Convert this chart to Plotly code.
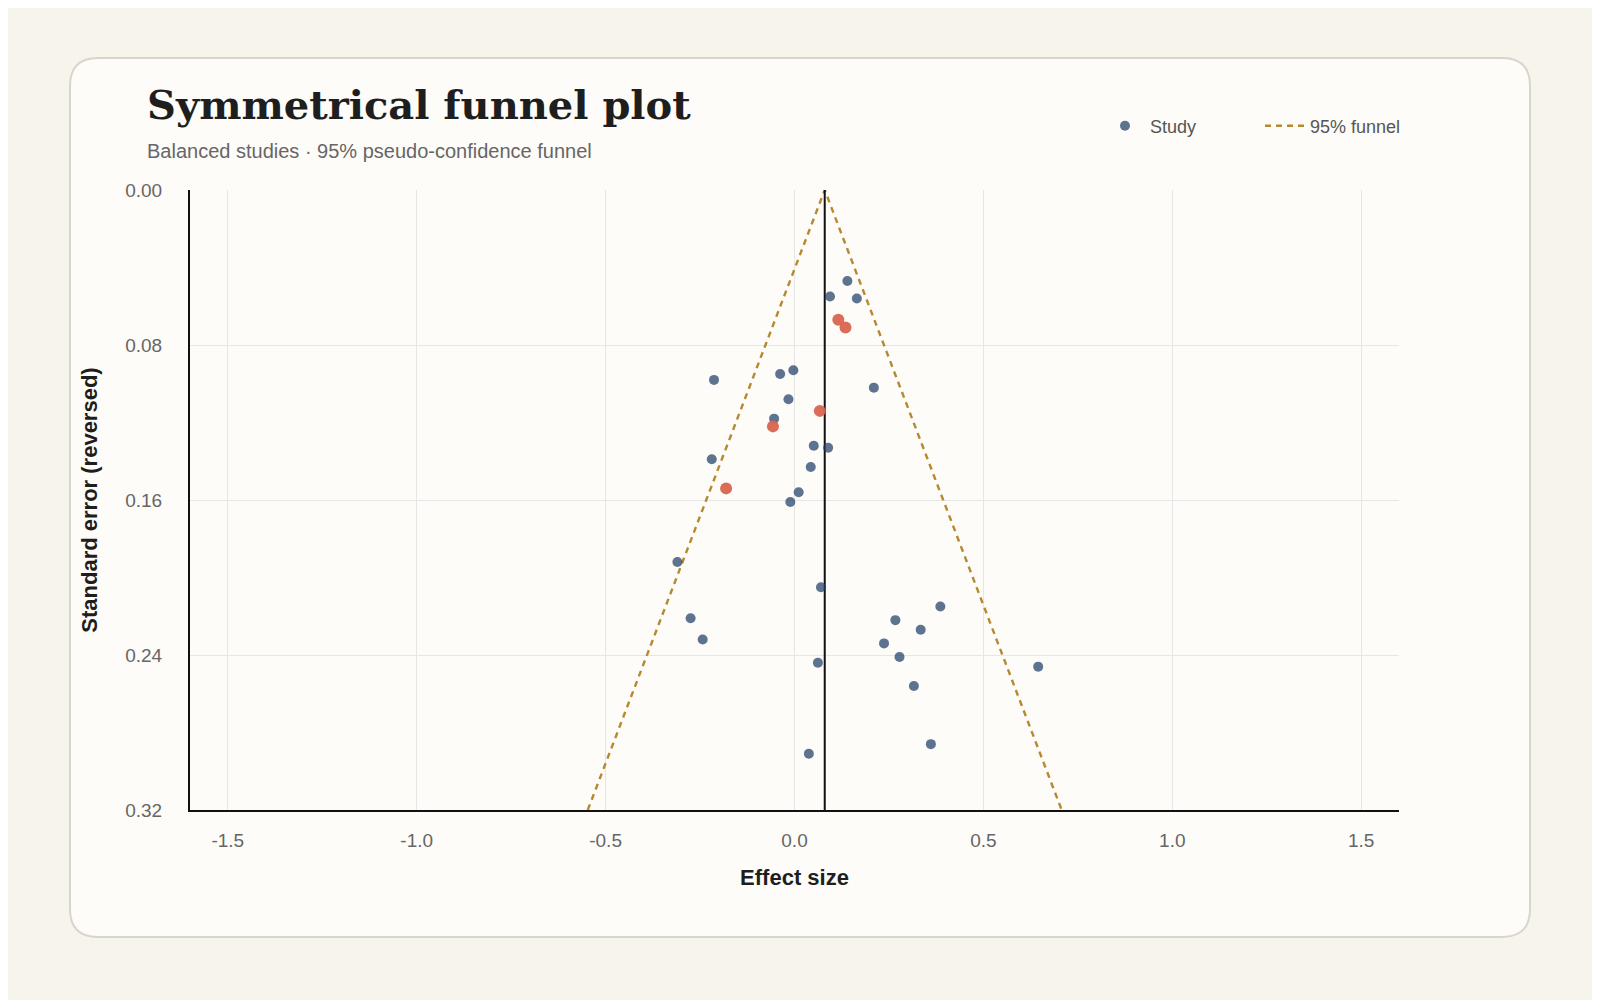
import plotly.graph_objects as go

# Study effects and standard errors
study_x = [0.140, 0.094, 0.165, -0.213, -0.038, -0.003, 0.210, -0.016, -0.054, 0.051,
           0.089, -0.219, 0.043, 0.011, -0.011, -0.310, 0.070, 0.386, 0.267, -0.275,
           0.334, -0.243, 0.237, 0.278, 0.062, 0.645, 0.316, 0.361, 0.038]
study_se = [0.047, 0.055, 0.056, 0.098, 0.095, 0.093, 0.102, 0.108, 0.118, 0.132,
            0.133, 0.139, 0.143, 0.156, 0.161, 0.192, 0.205, 0.215, 0.222, 0.221,
            0.227, 0.232, 0.234, 0.241, 0.244, 0.246, 0.256, 0.286, 0.291]
flag_x = [0.116, 0.135, 0.067, -0.057, -0.181]
flag_se = [0.067, 0.071, 0.114, 0.122, 0.154]
pooled = 0.08
funnel_se = [0.0, 0.32]
x_ticks = [-1.5, -1.0, -0.5, 0.0, 0.5, 1.0, 1.5]
x_labels = ["-1.5", "-1.0", "-0.5", "0.0", "0.5", "1.0", "1.5"]

W, H = 1600, 1000
S = 8  # page body offset
L, R, T, B = 190 - S, 201 + S, 190 - S, 190 + S
pw, ph = W - L - R, H - T - B


def px(x):
    return (x - S - L) / pw


def py(y):
    return (H - B - (y - S)) / ph


fig = go.Figure()
fig.add_trace(go.Scatter(x=[pooled - 1.96 * s for s in funnel_se][::-1] + [pooled + 1.96 * s for s in funnel_se],
                         y=funnel_se[::-1] + funnel_se, mode="lines", name="95% funnel",
                         line=dict(color="#b5892f", width=2.4, dash="6px,5px")))
fig.add_trace(go.Scatter(x=[pooled, pooled], y=[0, 0.32], mode="lines", showlegend=False,
                         line=dict(color="#111", width=2)))
fig.add_trace(go.Scatter(x=study_x, y=study_se, mode="markers", name="Study",
                         marker=dict(color="#1f3f66", size=10, opacity=0.72)))
fig.add_trace(go.Scatter(x=flag_x, y=flag_se, mode="markers", showlegend=False,
                         marker=dict(color="#d9654f", size=12, opacity=0.95)))

# rounded card
x0, x1, y0, y1, r = 70, 1530, 58, 937, 28
path = (f"M {px(x0 + r)} {py(y0)} L {px(x1 - r)} {py(y0)} Q {px(x1)} {py(y0)} {px(x1)} {py(y0 + r)} "
        f"L {px(x1)} {py(y1 - r)} Q {px(x1)} {py(y1)} {px(x1 - r)} {py(y1)} "
        f"L {px(x0 + r)} {py(y1)} Q {px(x0)} {py(y1)} {px(x0)} {py(y1 - r)} "
        f"L {px(x0)} {py(y0 + r)} Q {px(x0)} {py(y0)} {px(x0 + r)} {py(y0)} Z")
fig.add_shape(type="path", path=path, xref="paper", yref="paper", layer="below",
              fillcolor="#fdfcf8", line=dict(color="#d9d5cb", width=2))

fig.add_annotation(text="<b>Symmetrical funnel plot</b>", x=px(145), y=py(105), xref="paper", yref="paper",
                   xanchor="left", yanchor="middle", showarrow=False,
                   font=dict(family="DejaVu Serif", size=40, color="#1e1e1e"))
fig.add_annotation(text="Balanced studies · 95% pseudo-confidence funnel", x=px(145), y=py(151),
                   xref="paper", yref="paper", xanchor="left", yanchor="middle", showarrow=False,
                   font=dict(family="Liberation Sans", size=20, color="#666"))

axis_common = dict(showgrid=True, gridcolor="#e6e6e6", gridwidth=1, zeroline=False,
                   showline=True, linecolor="#111", linewidth=2, ticks="",
                   tickfont=dict(family="Liberation Sans", size=19, color="#666"))
fig.update_xaxes(range=[-1.6, 1.6], tickvals=x_ticks, ticktext=x_labels, ticklabelstandoff=12,
                 title=dict(text="<b>Effect size</b>", standoff=20,
                            font=dict(family="Liberation Sans", size=22, color="#1e1e1e")),
                 **axis_common)
fig.update_yaxes(range=[0.32, 0], tickvals=[0, 0.08, 0.16, 0.24, 0.32], tickformat=".2f",
                 ticklabelstandoff=22,
                 title=dict(text="<b>Standard error (reversed)</b>", standoff=22,
                            font=dict(family="Liberation Sans", size=22, color="#1e1e1e")),
                 **axis_common)
fig.update_layout(width=W, height=H, margin=dict(l=L, r=R, t=T, b=B),
                  paper_bgcolor="#f7f4ec", plot_bgcolor="rgba(0,0,0,0)",
                  legend=dict(orientation="h", x=px(1420), xanchor="right", y=py(126), yanchor="middle",
                              bgcolor="rgba(0,0,0,0)", traceorder="reversed",
                              entrywidth=105, itemwidth=40,
                              font=dict(family="Liberation Sans", size=18, color="#555")),
                  showlegend=True)

fig.write_html("out.html")
